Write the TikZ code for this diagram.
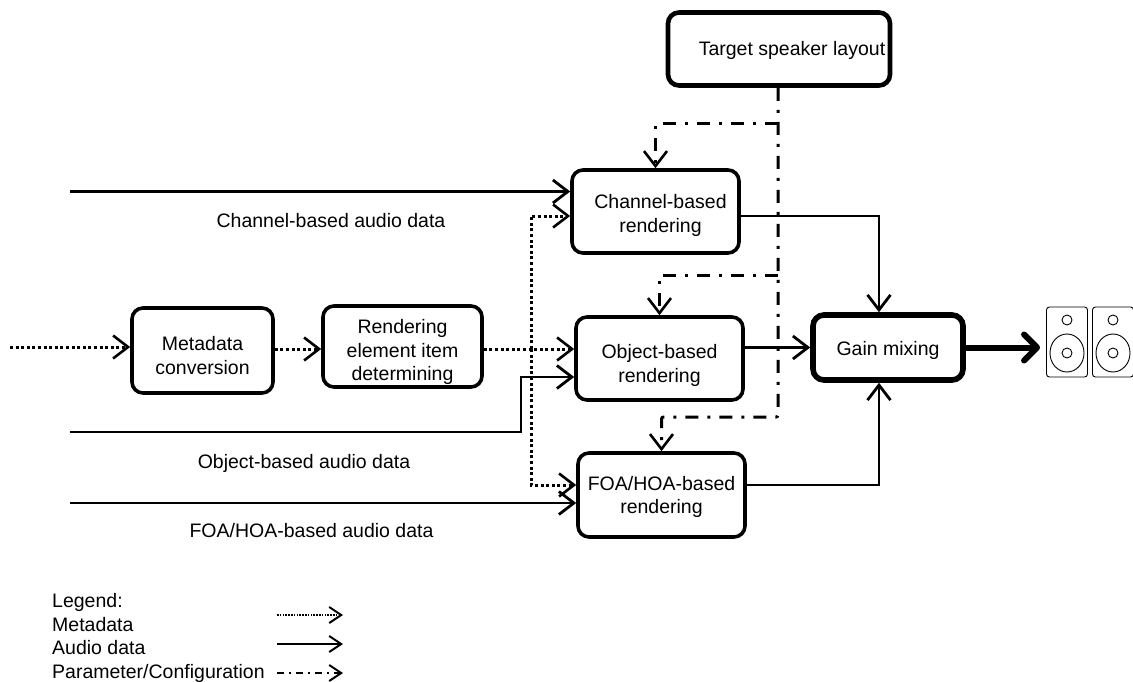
\documentclass[tikz,border=0pt]{standalone}
\usepackage{fontspec}
\setmainfont{Liberation Sans}
\usetikzlibrary{calc,arrows.meta}
% pushes the text of a box down
\newcommand{\push}[1]{\rule{0pt}{\dimexpr 14pt+#1pt*2\relax}}

\begin{document}
\begin{tikzpicture}[
x=1pt, y=-1pt,
font=\fontsize{19.5}{23.5}\selectfont,
box/.style={
	draw, rectangle, rounded corners=11pt,
	line width=3.6pt, align=center, inner sep=0pt
},
audio/.style={line width=2.8pt, -{Straight Barb[length=15pt,width=23pt]}},
meta/.style={line width=3pt, dash pattern=on 3pt off 2.6pt, -{Straight Barb[length=15pt,width=23pt,line width=2.6pt]}},
param/.style={line width=3pt, dash pattern=on 13pt off 9pt on 3pt off 9pt, rounded corners=2pt, -{Straight Barb[length=15pt,width=23pt,line width=2.6pt]}},
speaker/.style={draw, rectangle, rounded corners=3pt, line width=.9pt, minimum width=41pt, minimum height=70pt, inner sep=0pt},
lab/.style={anchor=base, inner sep=0pt},
legendtip/.style={-{Straight Barb[length=12pt,width=16pt,line width=2pt]}}
]
\useasboundingbox (0,0) rectangle (1133,682);
\node[box, line width=4.6pt, minimum width=222pt, minimum height=73pt] (target) at (779,49) {\push{2}\hspace*{26pt}Target speaker layout};
\node[box, minimum width=167pt, minimum height=83pt] (channel) at (655.5,211.5) {\push{4}\hspace*{10pt}Channel-based\\\hspace*{10pt}rendering};
\node[box, minimum width=167pt, minimum height=83pt] (object) at (659.5,358.5) {\push{7}Object-based\\rendering};
\node[box, minimum width=167pt, minimum height=84pt] (foa) at (661.5,495) {\push{2}FOA/HOA-based\\rendering};
\node[box, line width=5.6pt, minimum width=150pt, minimum height=65pt] (gain) at (888,347.5) {\push{3}Gain mixing};
\node[box, minimum width=141pt, minimum height=85pt] (conv) at (202.5,350.5) {\push{5}Metadata\\conversion};
\node[box, minimum width=159pt, minimum height=81pt] (determ) at (402.5,346.5) {\push{6}Rendering\\element item\\determining};
\foreach \i/\x in {1/1067,2/1113}
{
	\node[speaker] (spk\i) at (\x,342) {};
	\draw[line width=.9pt] (\x,320) circle (5pt);
	\draw[line width=.9pt] (\x,353) circle [x radius=17pt, y radius=19pt];
	\draw[line width=.9pt] (\x,353) circle (5pt);
}

% audio inputs
\coordinate (inchannel) at (70,191.5);
\coordinate (inobject) at (70,432);
\coordinate (infoa) at (70,503);
\coordinate (bend) at (521,377);
\draw[audio] (inchannel) -- (inchannel -| channel.west);
\draw[audio] (inobject) -| (bend) -- (bend -| object.west);
\draw[audio] (infoa) -- (infoa -| foa.west);
\node[lab] (lchannel) at (331,227) {Channel-based audio data};
\node[lab] (lobject) at (304,468) {Object-based audio data};
\node[lab] (lfoa) at (311.5,537) {FOA/HOA-based audio data};

% metadata
\coordinate (inmeta) at (10,347);
\coordinate (junction) at (531,349);
\coordinate (uptop) at (531,216);
\coordinate (downfoa) at (531,485);
\draw[meta] (inmeta) -- (inmeta -| conv.west);
\draw[meta] (conv.east |- junction) -- (junction -| determ.west);
\draw[meta] (determ.east |- junction) -- (junction -| object.west);
\draw[meta] (junction) -- (uptop) -- (uptop -| channel.west);
\draw[meta] (junction) -- (downfoa) -- (downfoa -| foa.west);

% parameters
\coordinate (bchannel) at (778,124);
\coordinate (bobject) at (778,275);
\coordinate (bfoa) at (778,417);
\draw[param] (bchannel) -| (channel.north);
\draw[param] (bobject) -| (object.north);
\draw[param] (target.south -| bfoa) -- (bfoa) -| (foa.north);

% outputs
\coordinate (outchannel) at (739,216);
\coordinate (outfoa) at (745,485);
\draw[audio] (outchannel) -| (gain.north -| 879,0);
\draw[audio] (object.east |- gain.west) -- (gain.west);
\draw[audio] (outfoa) -| (gain.south -| 879,0);
\draw[line width=6pt, -{Straight Barb[length=13pt,width=26pt,round]}, shorten >=6pt] (gain.east) -- (gain.east -| spk1.west);

% legend
\node[anchor=west, align=left, inner sep=0pt] (legend) at (52,638) {Legend:\\Metadata\\Audio data\\Parameter/Configuration};
\coordinate (lmeta) at (277,615);
\coordinate (laudio) at (277,644);
\coordinate (lparam) at (277,673);
\draw[meta, legendtip, line width=1.6pt, dash pattern=on 1.6pt off 1.2pt] (lmeta) -- ++(66,0);
\draw[audio, legendtip, line width=2.2pt] (laudio) -- ++(66,0);
\draw[param, legendtip, line width=2pt, dash pattern=on 7pt off 5pt on 2pt off 5pt] (lparam) -- ++(66,0);
\end{tikzpicture}
\end{document}
